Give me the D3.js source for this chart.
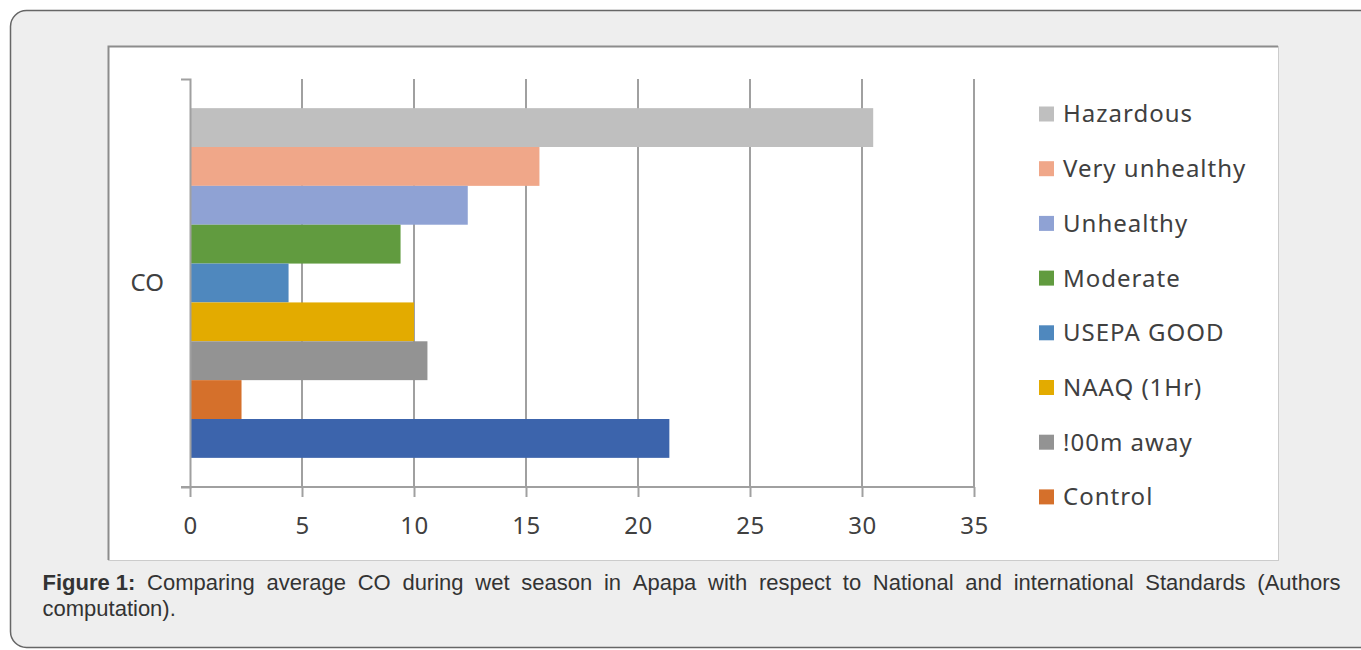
<!DOCTYPE html>
<html>
<head>
<meta charset="utf-8">
<script src="https://cdn.jsdelivr.net/npm/d3@7"></script>
<style>
  body { margin: 0; background: #ffffff; }
  svg { display: block; }
</style>
</head>
<body>
<div id="container"></div>
<script>
// data
let categories = ["CO"];
let seriesNames = ["Hazardous", "Very unhealthy", "Unhealthy", "Moderate", "USEPA GOOD", "NAAQ (1Hr)", "!00m away", "Control", "Apapa"];
let seriesValues = [30.5, 15.6, 12.4, 9.4, 4.4, 10, 10.6, 2.3, 21.4];
let seriesColors = ["#bfbfbf", "#f0a789", "#8fa2d4", "#619b3f", "#4f88be", "#e3ab00", "#939393", "#d5702b", "#3c64ac"];
// the legend in the figure is cut off after "Control"
let legendNames = ["Hazardous", "Very unhealthy", "Unhealthy", "Moderate", "USEPA GOOD", "NAAQ (1Hr)", "!00m away", "Control"];
let xTicks = [0, 5, 10, 15, 20, 25, 30, 35];
let captionBold = "Figure 1:";
let captionLine1 = "Comparing average CO during wet season in Apapa with respect to National and international Standards (Authors";
let captionLine2 = "computation).";

let w = 1361;
let h = 650;

let viz = d3.select("#container")
  .append("svg")
    .attr("width", w)
    .attr("height", h)
;

// outer page box
viz.append("rect")
  .attr("x", 10.5)
  .attr("y", 10.5)
  .attr("width", 1400)
  .attr("height", 637)
  .attr("rx", 16)
  .attr("fill", "#eeeeee")
  .attr("stroke", "#666666")
  .attr("stroke-width", 1.5)
;

// white chart image
viz.append("rect")
  .attr("x", 108.5)
  .attr("y", 46.5)
  .attr("width", 1170)
  .attr("height", 514)
  .attr("fill", "#ffffff")
  .attr("stroke", "#cccccc")
  .attr("stroke-width", 1)
;
viz.append("path")
  .attr("d", "M108.5,560 V46.5 H1278")
  .attr("fill", "none")
  .attr("stroke", "#8c8c8c")
  .attr("stroke-width", 2)
;

let xScale = d3.scaleLinear().domain([0, 35]).range([190, 974]);
let yScale = d3.scaleBand().domain(categories).range([79, 487]);

let barW = yScale.bandwidth() / (seriesNames.length + 1.5);
let yInner = d3.scaleBand()
  .domain(seriesNames)
  .range([barW * 0.75, yScale.bandwidth() - barW * 0.75]);

let axisColor = "#a0a0a0";
let textColor = "#404040";
let font = "'Noto Sans', 'Open Sans', sans-serif";

// gridlines
viz.append("g")
  .selectAll("line")
  .data(xTicks.filter(d => d > 0))
  .enter()
  .append("line")
    .attr("x1", d => xScale(d))
    .attr("x2", d => xScale(d))
    .attr("y1", yScale.range()[0])
    .attr("y2", yScale.range()[1])
    .attr("stroke", axisColor)
    .attr("stroke-width", 2)
;

// bars
let bars = viz.append("g")
  .attr("transform", "translate(0," + yScale("CO") + ")");

bars.selectAll("rect")
  .data(seriesValues)
  .enter()
  .append("rect")
    .attr("x", xScale(0))
    .attr("y", (d, i) => yInner(seriesNames[i]))
    .attr("width", d => xScale(d) - xScale(0))
    .attr("height", yInner.bandwidth())
    .attr("fill", (d, i) => seriesColors[i])
;

// x axis
let xAxis = viz.append("g")
  .attr("transform", "translate(0," + yScale.range()[1] + ")")
  .call(d3.axisBottom(xScale).tickValues(xTicks).tickSize(10).tickSizeOuter(0).tickPadding(20));

xAxis.select(".domain").attr("stroke", axisColor).attr("stroke-width", 2)
  .attr("d", "M" + (xScale(0) - 9) + ",0H" + xScale(35));
xAxis.selectAll(".tick line").attr("stroke", axisColor).attr("stroke-width", 2);
xAxis.selectAll(".tick text")
  .attr("fill", textColor)
  .style("font-family", font)
  .style("font-size", "24px")
  .style("letter-spacing", "0.5px");

// y axis
let yAxis = viz.append("g")
  .attr("transform", "translate(" + xScale(0) + ",0)")
  .call(d3.axisLeft(yScale).tickSize(0).tickSizeOuter(9).tickPadding(26));

yAxis.select(".domain").attr("stroke", axisColor).attr("stroke-width", 2);
yAxis.selectAll(".tick text")
  .attr("fill", textColor)
  .style("font-family", font)
  .style("font-size", "24px");

// legend
let legend = viz.append("g")
  .selectAll("g")
  .data(legendNames)
  .enter()
  .append("g")
    .attr("transform", (d, i) => "translate(1039," + (114 + i * 54.7) + ")")
;

legend.append("rect")
  .attr("x", 0)
  .attr("y", -7.5)
  .attr("width", 15)
  .attr("height", 15)
  .attr("fill", d => seriesColors[seriesNames.indexOf(d)])
;

legend.append("text")
  .text(d => d)
  .attr("x", 24)
  .attr("y", 0)
  .attr("dy", "0.35em")
  .attr("fill", textColor)
  .style("font-family", font)
  .style("font-size", "24px")
  .style("letter-spacing", "1px")
;

// caption, first line justified word by word
let capFont = "'Liberation Sans', Arial, sans-serif";
let capLeft = 42.5;
let capRight = 1340.5;
let words = [captionBold].concat(captionLine1.split(" "));

let cap = viz.append("g")
  .style("font-family", capFont)
  .style("font-size", "22px")
  .attr("fill", "#333333");

let wordNodes = cap.selectAll(".word")
  .data(words)
  .enter()
  .append("text")
    .classed("word", true)
    .attr("y", 590)
    .style("font-weight", (d, i) => i == 0 ? "bold" : "normal")
    .text(d => d)
;

let widths = [];
wordNodes.each(function(){ widths.push(this.getComputedTextLength()); });
let total = d3.sum(widths);
let gap = (capRight - capLeft - total) / (words.length - 1);
let cursor = capLeft;
wordNodes.attr("x", function(d, i){
  let x = cursor;
  cursor += widths[i] + gap;
  return x;
});

cap.append("text")
  .attr("x", capLeft)
  .attr("y", 615.5)
  .text(captionLine2);
</script>
</body>
</html>
